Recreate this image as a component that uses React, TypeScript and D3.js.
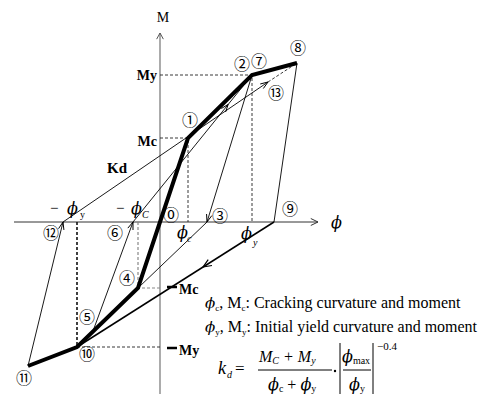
import React from 'react';
import * as d3 from 'd3';

// numbered points of the hysteresis rule (curvature phi, moment M) in drawing units
const pointNames = ['⓪', '①', '②', '③', '④', '⑤', '⑥', '⑦', '⑧', '⑨', '⑩', '⑪', '⑫', '⑬'];
const pointPhi = [0, 2.8, 9.2, 4.7, -2.2, -6.7, -2.7, 9.2, 13.7, 11.4, -8.3, -13.2, -9.7, 10.8];
const pointM = [0, 8.4, 14.7, 0, -6.6, -10.9, 0, 14.7, 15.9, 0, -12.5, -14.4, 0, 14.0];

// skeleton curve (thick), in point order
const skeleton = [11, 10, 4, 0, 1, 2, 8];
// thin branches, as pairs of points
const branches = [[2, 3], [3, 4], [5, 6], [6, 7], [8, 9], [11, 12], [12, 13]];

// characteristic values
const phiC = 2.8;
const phiY = 9.2;
const mC = 8.4;
const mY = 14.7;
const negPhiC = -2.2;
const negPhiY = -8.3;
const negMC = -6.6;
const negMY = -12.5;

const FONT = '"Liberation Serif", "Times New Roman", serif';
const PHI = '"DejaVu Serif", serif';
const CIRC = '"Noto Sans CJK JP", "DejaVu Sans", sans-serif';

const x = d3.scaleLinear().domain([-15, 16]).range([10, 320]);
const y = d3.scaleLinear().domain([-17, 19]).range([392, 32]);

const P = (i: number): [number, number] => [x(pointPhi[i]), y(pointM[i])];

const arrowHead = (tx: number, ty: number, ang: number, len = 8, spread = 0.4) => {
  const a1 = ang + Math.PI - spread;
  const a2 = ang + Math.PI + spread;
  return `M${tx + len * Math.cos(a1)},${ty + len * Math.sin(a1)}L${tx},${ty}L${tx + len * Math.cos(a2)},${ty + len * Math.sin(a2)}`;
};

const along = (i: number, j: number, t: number) => {
  const [x1, y1] = P(i);
  const [x2, y2] = P(j);
  return { px: x1 + (x2 - x1) * t, py: y1 + (y2 - y1) * t, ang: Math.atan2(y2 - y1, x2 - x1) };
};

// label offsets for the circled numbers (pixels)
const labelOffset: [number, number][] = [
  [11, -8], [2, -19], [-10, -12], [13, -7], [-11, -11], [-6, -15], [-18, 10],
  [7, -15], [1, -16], [16, -14], [10, 6], [-4, 11], [-12, 10], [8, 10],
];

export default function App() {
  const line = d3.line<number>().x((i) => x(pointPhi[i])).y((i) => y(pointM[i]));
  const x0 = x(0);
  const y0 = y(0);

  const arrows = [
    along(2, 3, 1),
    along(5, 6, 1),
    along(11, 12, 1),
    along(12, 13, 1),
    along(6, 7, 0.8),
  ];
  const mid = along(9, 10, 0.36);

  const dash = '3,2';
  return (
    <svg width={488} height={394} style={{ position: 'absolute', left: 0, top: 0, background: '#fff' }}>
      {/* axes */}
      <line x1={14} y1={y0} x2={318} y2={y0} stroke="#333" strokeWidth={1} />
      <path d={arrowHead(318, y0, 0, 8, 0.45)} fill="none" stroke="#333" strokeWidth={1} />
      <line x1={x0} y1={394} x2={x0} y2={33} stroke="#888" strokeWidth={1.4} />
      <path d={arrowHead(x0, 33, -Math.PI / 2, 7, 0.5)} fill="none" stroke="#555" strokeWidth={1} />

      {/* dashed guides */}
      <g fill="none" strokeDasharray={dash}>
        <path d={`M${x0},${y(mY)}H${x(phiY)}V${y0}`} stroke="#222" strokeWidth={0.9} />
        <path d={`M${x0},${y(mC)}H${x(phiC)}V${y0}`} stroke="#222" strokeWidth={0.9} />
        <path d={`M${x(negPhiY)},${y0}V${y(negMY)}`} stroke="#111" strokeWidth={1.6} />
        <path d={`M${x(negPhiY)},${y(negMY)}H${x0}`} stroke="#222" strokeWidth={0.9} />
        <path d={`M${x(negPhiC)},${y0}V${y(negMC)}H${x0}`} stroke="#888" strokeWidth={1.2} />
        <path d={line([13, 8]) ?? ''} stroke="#222" strokeWidth={0.9} />
      </g>

      {/* thin branches */}
      {branches.map(([i, j], k) => (
        <path key={k} d={line([i, j]) ?? ''} fill="none" stroke="#000" strokeWidth={0.9} />
      ))}
      <path d={line([9, 10]) ?? ''} fill="none" stroke="#000" strokeWidth={1.5} />

      {/* skeleton */}
      <path d={line(skeleton) ?? ''} fill="none" stroke="#000" strokeWidth={4} strokeLinejoin="miter" />

      {/* arrow heads */}
      {arrows.map((a, k) => (
        <path key={k} d={arrowHead(a.px, a.py, a.ang, 8, 0.35)} fill="none" stroke="#000" strokeWidth={1} />
      ))}
      <path d={arrowHead(mid.px, mid.py, mid.ang, 9, 0.4)} fill="none" stroke="#000" strokeWidth={1.2} />

      {/* circled point numbers */}
      {pointNames.map((n, i) => (
        <text key={n} x={P(i)[0] + labelOffset[i][0]} y={P(i)[1] + labelOffset[i][1]}
          fontFamily={CIRC} fontSize={16} textAnchor="middle" dominantBaseline="central">{n}</text>
      ))}

      {/* axis labels */}
      <text x={163} y={22} fontFamily={FONT} fontSize={14} textAnchor="middle">M</text>
      <text x={331} y={228} fontFamily={PHI} fontSize={16} fontStyle="italic">ϕ</text>

      <g fontFamily={FONT} fontSize={14} fontWeight="bold">
        <text x={157} y={y(mY)} textAnchor="end" dominantBaseline="central">My</text>
        <text x={157} y={y(mC) + 3} textAnchor="end" dominantBaseline="central">Mc</text>
        <text x={117} y={168} fontSize={15} textAnchor="middle" dominantBaseline="central">Kd</text>
        <text x={179} y={y(negMC) + 1} dominantBaseline="central">Mc</text>
        <text x={179} y={y(negMY) + 3} dominantBaseline="central">My</text>
      </g>
      <line x1={167} x2={177} y1={y(negMC) - 1} y2={y(negMC) - 1} stroke="#000" strokeWidth={2.5} />
      <line x1={167} x2={177} y1={y(negMY) + 1} y2={y(negMY) + 1} stroke="#000" strokeWidth={2.5} />

      <g fontFamily={FONT} fontSize={15}>
        <text x={50} y={213}>−</text>
        <text x={67} y={214} fontFamily={PHI} fontStyle="italic" fontSize={16}>ϕ</text>
        <text x={80} y={218} fontSize={10}>y</text>
        <text x={116} y={213}>−</text>
        <text x={131} y={214} fontFamily={PHI} fontStyle="italic" fontSize={16}>ϕ</text>
        <text x={142} y={218} fontSize={10} fontStyle="italic">C</text>
        <text x={177} y={238} fontFamily={PHI} fontStyle="italic" fontSize={16}>ϕ</text>
        <text x={187} y={242} fontSize={10} fontStyle="italic">c</text>
        <text x={241} y={239} fontFamily={PHI} fontStyle="italic" fontSize={16}>ϕ</text>
        <text x={253} y={246} fontSize={10} fontStyle="italic">y</text>
      </g>

      {/* definitions */}
      <g fontFamily={FONT} fontSize={16}>
        <text x={205} y={308}>
          <tspan fontFamily={PHI} fontStyle="italic" fontSize={15}>ϕ</tspan>
          <tspan fontSize={9} dy={3}>c</tspan>
          <tspan dy={-3}>, M</tspan>
          <tspan fontSize={9} dy={3}>c</tspan>
          <tspan dy={-3}>:  Cracking curvature and moment</tspan>
        </text>
        <text x={205} y={332}>
          <tspan fontFamily={PHI} fontStyle="italic" fontSize={15}>ϕ</tspan>
          <tspan fontSize={9} dy={3}>y</tspan>
          <tspan dy={-3}>, M</tspan>
          <tspan fontSize={9} dy={3}>y</tspan>
          <tspan dy={-3}>:  Initial yield curvature and moment</tspan>
        </text>
      </g>

      {/* formula */}
      <g fontFamily={FONT} fontStyle="italic">
        <text x={218} y={374} fontSize={18}>k</text>
        <text x={227} y={378} fontSize={10}>d</text>
        <text x={235} y={374} fontSize={17} fontStyle="normal">=</text>
        <text x={259} y={362} fontSize={16}>
          M<tspan fontSize={10} dy={2}>C</tspan><tspan dy={-2}> + M</tspan><tspan fontSize={10} dy={2}>y</tspan>
        </text>
        <text x={268} y={390} fontSize={16}>
          <tspan fontFamily={PHI}>ϕ</tspan><tspan fontSize={10} dy={2} fontStyle="normal">c</tspan><tspan dy={-2} fontStyle="normal"> + </tspan><tspan fontFamily={PHI}>ϕ</tspan><tspan fontSize={10} dy={2} fontStyle="normal">y</tspan>
        </text>
        <text x={342} y={362} fontSize={16}>
          <tspan fontFamily={PHI}>ϕ</tspan><tspan fontSize={10} dy={2} fontStyle="normal">max</tspan>
        </text>
        <text x={349} y={390} fontSize={16}>
          <tspan fontFamily={PHI}>ϕ</tspan><tspan fontSize={10} dy={2} fontStyle="normal">y</tspan>
        </text>
        <text x={377} y={350} fontSize={11} fontStyle="normal">−0.4</text>
      </g>
      <line x1={258} x2={332} y1={370} y2={370} stroke="#000" strokeWidth={1} />
      <line x1={343} x2={371} y1={370} y2={370} stroke="#000" strokeWidth={1} />
      <line x1={340} x2={340} y1={343} y2={394} stroke="#000" strokeWidth={1} />
      <line x1={373} x2={373} y1={343} y2={394} stroke="#000" strokeWidth={1} />
      <circle cx={335} cy={371} r={1.2} fill="#000" />
    </svg>
  );
}
